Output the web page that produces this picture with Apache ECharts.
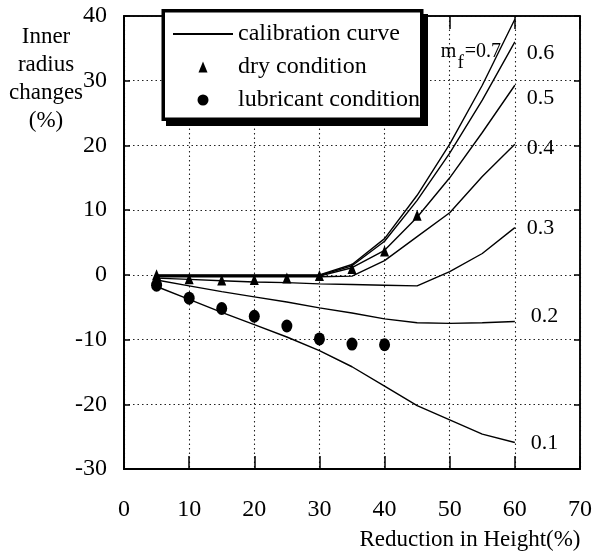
<!DOCTYPE html>
<html>
<head>
<meta charset="utf-8">
<script src="https://cdn.jsdelivr.net/npm/echarts@6/dist/echarts.min.js"></script>
<style>
  html, body { margin: 0; padding: 0; background: #fff; }
  #chart { width: 595px; height: 559px; }
</style>
</head>
<body>
<div id="chart"></div>
<script>
// Reduction in height (%) at which the calibration curves are tabulated
const reduction = [5, 10, 15, 20, 25, 30, 35, 40, 45, 50, 55, 60];

// Calibration curves, inner radius change (%) for each friction factor m_f
const cal01 = [-1.8, -3.8, -5.8, -7.7, -9.6, -11.7, -14.2, -17.2, -20.2, -22.4, -24.6, -25.9];
const cal02 = [-0.8, -1.7, -2.6, -3.4, -4.2, -5.1, -5.9, -6.8, -7.4, -7.5, -7.4, -7.2];
const cal03 = [-0.5, -0.7, -0.9, -1.1, -1.2, -1.4, -1.5, -1.6, -1.7, 0.5, 3.3, 7.3];
const cal04 = [-0.3, -0.3, -0.3, -0.3, -0.3, -0.3, -0.2, 2.2, 5.9, 9.6, 15.2, 20.2];
const cal05 = [-0.2, -0.2, -0.2, -0.2, -0.2, -0.2, 1.1, 3.8, 8.9, 15.0, 22.0, 29.3];
const cal06 = [-0.1, -0.1, -0.1, -0.1, -0.1, -0.1, 1.4, 5.2, 11.5, 18.8, 27.0, 36.0];
const cal07 = [0.0, 0.0, 0.0, 0.0, 0.0, 0.0, 1.6, 5.6, 12.3, 20.2, 29.3, 39.5];
const calLabels = ['0.1', '0.2', '0.3', '0.4', '0.5', '0.6', 'm_f=0.7'];

// Measured rings: dry condition
const dryReduction = [5, 10, 15, 20, 25, 30, 35, 40, 45];
const dryChange = [0.0, -0.6, -0.8, -0.7, -0.5, -0.1, 1.0, 3.7, 9.2];

// Measured rings: lubricant condition
const lubReduction = [5, 10, 15, 20, 25, 30, 35, 40];
const lubChange = [-1.6, -3.6, -5.2, -6.4, -7.9, -9.9, -10.7, -10.8];

// Axis ticks
const xMin = 0, xMax = 70, xStep = 10;
const yMin = -30, yMax = 40, yStep = 10;

const FONT = '"Liberation Serif", "Times New Roman", serif';

const pairs = (xs, ys) => xs.map((x, i) => [x, ys[i]]);

const calCurves = [cal01, cal02, cal03, cal04, cal05, cal06, cal07];
// where each curve's label sits relative to its last point
const labelOffsets = [[2, 1], [2, -5], [-2, 1], [-2, 4], [-2, 13], [-2, 11], [-88, 38]];

const calSeries = calCurves.map((ys, i) => ({
  name: 'calibration curve',
  type: 'line',
  data: pairs(reduction, ys),
  symbol: 'none',
  silent: true,
  itemStyle: { color: '#000' },
  lineStyle: { color: '#000', width: 1.4 },
  endLabel: {
    show: true,
    distance: 14,
    offset: labelOffsets[i],
    formatter: i === 6 ? '{a|m}{b|f}{a|=0.7}' : calLabels[i],
    color: '#000',
    fontFamily: FONT,
    fontSize: 22,
    rich: {
      a: { fontFamily: FONT, fontSize: 20, color: '#000', verticalAlign: 'top' },
      b: { fontFamily: FONT, fontSize: 19, color: '#000', verticalAlign: 'top', padding: [12, 1, 0, 1] }
    }
  },
  z: 2
}));

const splitStyle = { show: true, lineStyle: { color: '#222', width: 1.1, type: [1.5, 3] } };

// legend marker for the dry rings: a small triangle centred in the 60px-wide icon box
const triangleIcon = 'path://M0,5.5L0,5.5M30,0L34.5,11L25.5,11ZM60,5.5L60,5.5';

const option = {
  animation: false,
  backgroundColor: '#fff',
  grid: { left: 124, right: 10, top: 16, bottom: 90, show: true, borderColor: '#000', borderWidth: 1.5, backgroundColor: 'transparent' },
  legend: {
    left: 163,
    top: 10,
    orient: 'vertical',
    data: [
      { name: 'calibration curve', itemStyle: { opacity: 0 } },
      { name: 'dry condition', icon: triangleIcon },
      { name: 'lubricant condition', icon: 'circle' }
    ],
    itemWidth: 60,
    itemHeight: 11,
    itemGap: 7,
    padding: [11, 6, 12, 9],
    backgroundColor: 'transparent',
    borderWidth: 0,
    textStyle: { fontFamily: FONT, fontSize: 24, color: '#000', lineHeight: 26 },
    selectedMode: false,
    z: 10
  },
  xAxis: [
    {
      type: 'value', min: xMin, max: xMax, interval: xStep, position: 'bottom',
      axisLine: { show: true, onZero: false, lineStyle: { color: '#000', width: 2 } },
      axisTick: { show: true, inside: true, length: 13, lineStyle: { color: '#000', width: 1.5 } },
      axisLabel: { fontFamily: FONT, fontSize: 24, color: '#000', margin: 29 },
      splitLine: splitStyle
    },
    {
      type: 'value', min: xMin, max: xMax, interval: xStep, position: 'top',
      axisLine: { show: true, onZero: false, lineStyle: { color: '#000', width: 1.5 } },
      axisTick: { show: true, inside: true, length: 13, lineStyle: { color: '#000', width: 1.5 } },
      axisLabel: { show: false },
      splitLine: { show: false }
    }
  ],
  yAxis: [
    {
      type: 'value', min: yMin, max: yMax, interval: yStep, position: 'left',
      axisLine: { show: true, onZero: false, lineStyle: { color: '#000', width: 2 } },
      axisTick: { show: true, inside: true, length: 6, lineStyle: { color: '#000', width: 1.5 } },
      axisLabel: { fontFamily: FONT, fontSize: 24, color: '#000', margin: 17 },
      splitLine: splitStyle
    },
    {
      type: 'value', min: yMin, max: yMax, interval: yStep, position: 'right',
      axisLine: { show: true, onZero: false, lineStyle: { color: '#000', width: 1.5 } },
      axisTick: { show: true, inside: true, length: 6, lineStyle: { color: '#000', width: 1.5 } },
      axisLabel: { show: false },
      splitLine: { show: false }
    }
  ],
  graphic: [
    // legend frame: offset black block as a drop shadow, then the white box
    {
      type: 'rect', z: 5,
      shape: { x: 166, y: 14, width: 262, height: 112 },
      style: { fill: '#000' }
    },
    {
      type: 'rect', z: 6,
      shape: { x: 163.25, y: 10.75, width: 258.5, height: 108.5 },
      style: { fill: '#fff', stroke: '#000', lineWidth: 3.5 }
    },
    {
      type: 'text', z: 6,
      x: 46, y: 79,
      style: {
        text: 'Inner\nradius\nchanges\n(%)',
        fontFamily: FONT, fontSize: 23, lineHeight: 28, fill: '#000',
        align: 'center', verticalAlign: 'middle'
      }
    },
    {
      type: 'text', z: 6,
      x: 470, y: 540,
      style: {
        text: 'Reduction in Height(%)',
        fontFamily: FONT, fontSize: 23, fill: '#000',
        align: 'center', verticalAlign: 'middle'
      }
    }
  ],
  series: [
    ...calSeries,
    {
      name: 'dry condition',
      type: 'scatter',
      data: pairs(dryReduction, dryChange),
      symbol: 'triangle',
      symbolSize: [9, 11],
      itemStyle: { color: '#000', opacity: 1 },
      z: 3
    },
    {
      name: 'lubricant condition',
      type: 'scatter',
      data: pairs(lubReduction, lubChange),
      symbol: 'circle',
      symbolSize: [11, 13],
      itemStyle: { color: '#000', opacity: 1 },
      z: 3
    }
  ]
};

const chart = echarts.init(document.getElementById('chart'), null, { renderer: 'canvas' });
chart.setOption(option);
</script>
</body>
</html>
